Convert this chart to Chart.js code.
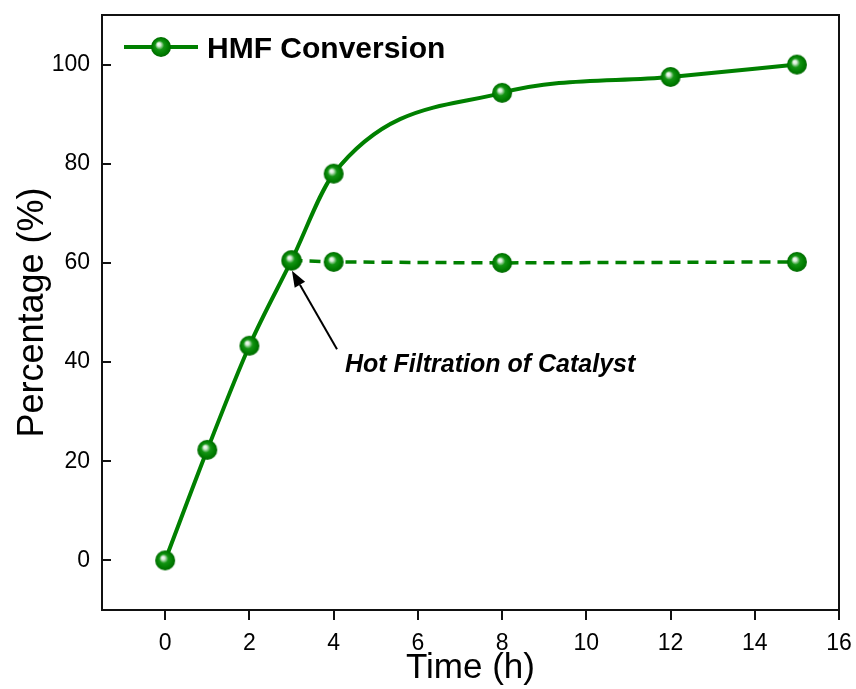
<!DOCTYPE html>
<html>
<head>
<meta charset="utf-8">
<script src="https://cdn.jsdelivr.net/npm/chart.js@4.4.1/dist/chart.umd.min.js"></script>
<style>
  html, body { margin: 0; padding: 0; background: #fff; }
  #wrap { width: 856px; height: 689px; }
</style>
</head>
<body>
<div id="wrap"><canvas id="chart" width="856" height="689"></canvas></div>
<script>
// HMF conversion over time; second run stopped by hot filtration at 3 h
const timeHours = [0, 1, 2, 3, 4, 8, 12, 15];
const conversion = [0, 22.3, 43.3, 60.5, 78.0, 94.3, 97.5, 100];
const filtrationTime = [3, 4, 8, 15];
const filtrationConversion = [60.5, 60.2, 60.0, 60.2];

const xTicks = [0, 2, 4, 6, 8, 10, 12, 14, 16];
const yTicks = [0, 20, 40, 60, 80, 100];
const xRange = [-1.5, 16];
const yRange = [-10, 110];

// annotation arrow (data units) and its label
const arrowFrom = [4.08, 42.6];
const arrowTo = [3.01, 58.4];
const notePos = [4.27, 38.0];
const noteText = 'Hot Filtration of Catalyst';
const legendText = 'HMF Conversion';

const GREEN = '#008000';
const FONT = 'Arial, "Liberation Sans", sans-serif';

// shaded green ball used as point marker
const makeBall = (r) => {
  const c = document.createElement('canvas');
  c.width = c.height = r * 2 + 2;
  const g = c.getContext('2d');
  const cx = r + 1, cy = r + 1;
  const grad = g.createRadialGradient(cx - r * 0.25, cy - r * 0.3, 0, cx, cy, r);
  grad.addColorStop(0, '#ffffff');
  grad.addColorStop(0.18, '#d6ecd6');
  grad.addColorStop(0.45, '#139413');
  grad.addColorStop(0.8, '#007c00');
  grad.addColorStop(1, '#006800');
  g.fillStyle = grad;
  g.beginPath();
  g.arc(cx, cy, r, 0, Math.PI * 2);
  g.fill();
  return c;
};
const ball = makeBall(10);

const toXY = (xs, ys) => xs.map((x, i) => ({ x, y: ys[i] }));

// box frame, x ticks pointing out, y ticks pointing in
const framePlugin = {
  id: 'frame',
  afterDatasetsDraw(chart) {
    const { ctx, chartArea: a, scales: { x, y } } = chart;
    ctx.save();
    ctx.strokeStyle = '#111';
    ctx.lineWidth = 2;
    ctx.strokeRect(a.left, a.top, a.right - a.left, a.bottom - a.top);
    ctx.beginPath();
    xTicks.forEach(v => {
      const px = Math.round(x.getPixelForValue(v));
      ctx.moveTo(px, a.bottom);
      ctx.lineTo(px, a.bottom + 10);
    });
    yTicks.forEach(v => {
      const py = Math.round(y.getPixelForValue(v));
      ctx.moveTo(a.left, py);
      ctx.lineTo(a.left + 9, py);
    });
    ctx.stroke();
    ctx.restore();
  }
};

// arrow + italic note
const notePlugin = {
  id: 'note',
  afterDraw(chart) {
    const { ctx, scales: { x, y } } = chart;
    const x0 = x.getPixelForValue(arrowFrom[0]), y0 = y.getPixelForValue(arrowFrom[1]);
    const x1 = x.getPixelForValue(arrowTo[0]), y1 = y.getPixelForValue(arrowTo[1]);
    const ang = Math.atan2(y1 - y0, x1 - x0);
    const headLen = 16, headW = 6;
    const bx = x1 - headLen * Math.cos(ang), by = y1 - headLen * Math.sin(ang);
    ctx.save();
    ctx.strokeStyle = '#000';
    ctx.fillStyle = '#000';
    ctx.lineWidth = 2;
    ctx.beginPath();
    ctx.moveTo(x0, y0);
    ctx.lineTo(bx, by);
    ctx.stroke();
    ctx.beginPath();
    ctx.moveTo(x1, y1);
    ctx.lineTo(bx + headW * Math.sin(ang), by - headW * Math.cos(ang));
    ctx.lineTo(bx - headW * Math.sin(ang), by + headW * Math.cos(ang));
    ctx.closePath();
    ctx.fill();

    ctx.font = 'italic bold 25px ' + FONT;
    ctx.textAlign = 'left';
    ctx.textBaseline = 'alphabetic';
    ctx.fillText(noteText, x.getPixelForValue(notePos[0]), y.getPixelForValue(notePos[1]));
    ctx.restore();
  }
};

// legend: line sample with ball, bold label
const legendPlugin = {
  id: 'legendBox',
  afterDraw(chart) {
    const { ctx, chartArea: a } = chart;
    const cy = a.top + 32;
    const lx = a.left + 22;
    ctx.save();
    ctx.strokeStyle = GREEN;
    ctx.lineWidth = 4;
    ctx.beginPath();
    ctx.moveTo(lx, cy);
    ctx.lineTo(lx + 74, cy);
    ctx.stroke();
    ctx.drawImage(ball, lx + 37 - ball.width / 2, cy - ball.height / 2);
    ctx.fillStyle = '#000';
    ctx.font = 'bold 30px ' + FONT;
    ctx.textAlign = 'left';
    ctx.textBaseline = 'alphabetic';
    ctx.fillText(legendText, lx + 83, cy + 11);
    ctx.restore();
  }
};

new Chart(document.getElementById('chart'), {
  type: 'line',
  data: {
    datasets: [
      {
        label: 'After filtration',
        data: toXY(filtrationTime, filtrationConversion),
        borderColor: GREEN,
        borderWidth: 3.5,
        borderDash: [11, 7],
        pointStyle: ball,
        tension: 0
      },
      {
        label: legendText,
        data: toXY(timeHours, conversion),
        borderColor: GREEN,
        borderWidth: 4,
        pointStyle: ball,
        cubicInterpolationMode: 'monotone'
      }
    ]
  },
  options: {
    responsive: false,
    animation: false,
    devicePixelRatio: 1,
    layout: { padding: { top: 15, right: 17, left: 0, bottom: 0 } },
    plugins: {
      legend: { display: false },
      tooltip: { enabled: false }
    },
    scales: {
      x: {
        type: 'linear',
        min: xRange[0],
        max: xRange[1],
        afterBuildTicks: s => { s.ticks = xTicks.map(v => ({ value: v })); },
        afterFit: s => { s.height = 79; s.paddingLeft = 0; s.paddingRight = 0; },
        grid: { display: false, drawTicks: false },
        border: { display: false },
        ticks: { color: '#000', font: { family: FONT, size: 23 }, padding: 20, maxRotation: 0 },
        title: {
          display: true, text: 'Time (h)', color: '#000',
          font: { family: FONT, size: 35 }, padding: { top: 0, bottom: 0 }
        }
      },
      y: {
        min: yRange[0],
        max: yRange[1],
        afterBuildTicks: s => { s.ticks = yTicks.map(v => ({ value: v })); },
        afterFit: s => { s.width = 102; s.paddingTop = 0; s.paddingBottom = 0; },
        grid: { display: false, drawTicks: false },
        border: { display: false },
        ticks: { color: '#000', font: { family: FONT, size: 23 }, padding: 12 },
        title: {
          display: true, text: 'Percentage (%)', color: '#000',
          font: { family: FONT, size: 36 }, padding: { top: 11, bottom: 0 }
        }
      }
    }
  },
  plugins: [framePlugin, notePlugin, legendPlugin]
});
</script>
</body>
</html>
